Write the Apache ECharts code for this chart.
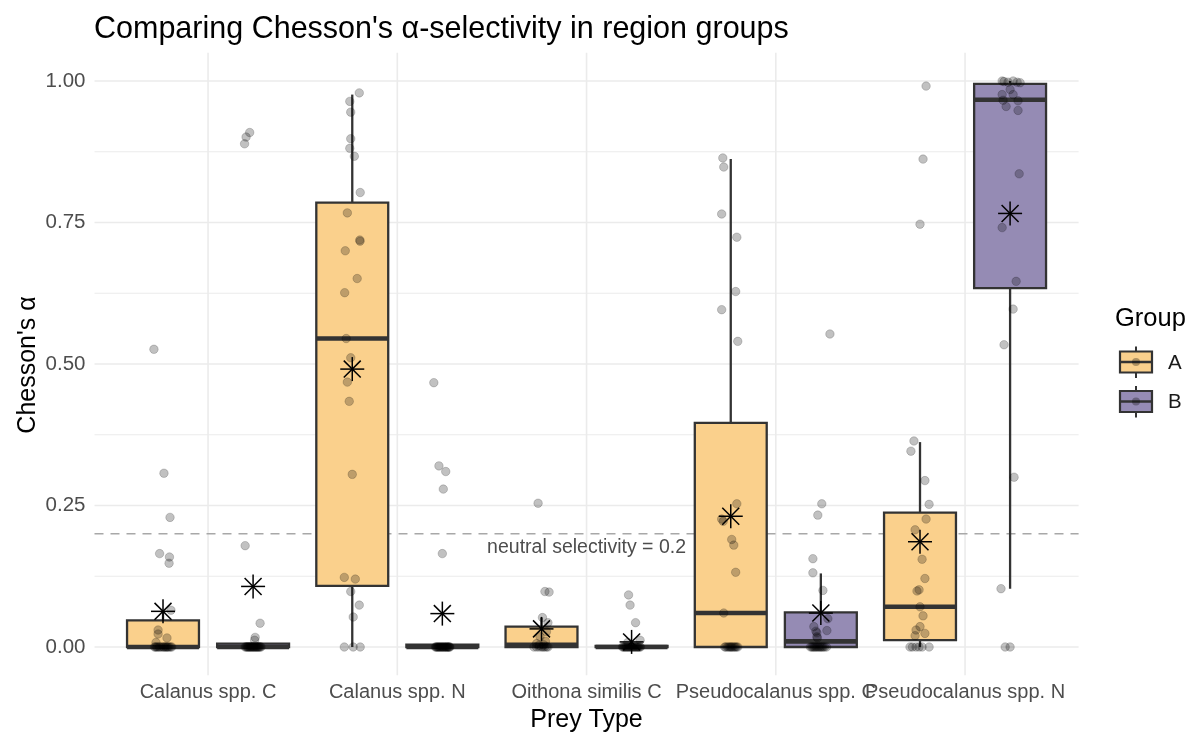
<!DOCTYPE html>
<html>
<head>
<meta charset="utf-8">
<script src="https://cdn.jsdelivr.net/npm/echarts@6/dist/echarts.min.js"></script>
<style>
  html, body { margin: 0; padding: 0; background: #ffffff; }
  #chart { width: 1192px; height: 736px; }
</style>
</head>
<body>
<div id="chart"></div>
<script>
// ---- data ----------------------------------------------------------------
const categories = ['Calanus spp. C', 'Calanus spp. N', 'Oithona similis C', 'Pseudocalanus spp. C', 'Pseudocalanus spp. N'];
const groups = ['A', 'B'];
const yTicks = [0, 0.25, 0.5, 0.75, 1];
const yMinorTicks = [0.125, 0.375, 0.625, 0.875];
const neutral = 0.2;

// box statistics per prey type: [lower whisker, Q1, median, Q3, upper whisker]
const boxA = [
  [0, 0, 0, 0.047, 0.065],
  [0, 0.108, 0.545, 0.785, 0.976],
  [0, 0, 0.004, 0.036, 0.052],
  [0, 0, 0.060, 0.396, 0.862],
  [0, 0.012, 0.071, 0.2375, 0.362]
];
const boxB = [
  [0, 0, 0, 0.006, 0.006],
  [0, 0, 0, 0.004, 0.004],
  [0, 0, 0, 0.002, 0.002],
  [0, 0, 0.010, 0.061, 0.130],
  [0.103, 0.634, 0.967, 0.995, 1.0]
];

// group means
const meanA = [0.063, 0.491, 0.032, 0.231, 0.186];
const meanB = [0.107, 0.059, 0.009, 0.060, 0.766];

// individual observations: [alpha, horizontal jitter (category units)]
const obsA = [
  [[0.526, -0.048], [0.307, 0.005], [0.229, 0.037], [0.165, -0.018], [0.159, 0.034], [0.148, 0.032],
   [0.065, 0.042], [0.030, -0.026], [0.023, -0.026], [0.016, 0.021], [0.008, -0.037],
   [0, -0.045], [0, -0.040], [0, -0.034], [0, -0.029], [0, -0.021], [0, -0.016], [0, -0.008], [0, 0],
   [0, 0.005], [0, 0.011], [0, 0.016], [0, 0.021], [0, 0.026], [0, 0.032], [0, 0.040], [0, 0.046]],
  [[0.979, 0.037], [0.964, -0.013], [0.945, -0.008], [0.898, -0.008], [0.881, -0.013], [0.867, 0.011],
   [0.803, 0.042], [0.767, -0.026], [0.719, 0.040], [0.717, 0.041], [0.700, -0.037], [0.651, 0.026],
   [0.626, -0.040], [0.545, -0.032], [0.511, -0.008], [0.468, -0.026], [0.434, -0.016], [0.305, 0],
   [0.123, -0.042], [0.120, 0.016], [0.098, -0.008], [0.074, 0.037], [0.053, 0.005],
   [0, -0.042], [0, 0.005], [0, 0.042]],
  [[0.254, -0.018], [0.098, 0.018], [0.097, 0.040], [0.052, 0.005], [0.043, 0.034], [0.027, 0.026],
   [0.018, -0.008], [0.010, 0.021], [0.006, -0.026], [0.004, 0.011], [0.003, -0.013],
   [0, -0.040], [0, -0.026], [0, -0.013], [0, 0], [0, 0.008], [0, 0.016], [0, 0.026], [0, 0.034]],
  [[0.864, -0.042], [0.848, -0.037], [0.765, -0.048], [0.724, 0.032], [0.628, 0.026], [0.596, -0.048],
   [0.540, 0.037], [0.253, 0.032], [0.226, -0.048], [0.222, -0.040], [0.190, 0.005], [0.180, 0.016],
   [0.132, 0.026], [0.060, -0.037],
   [0, -0.032], [0, -0.026], [0, -0.018], [0, -0.011], [0, -0.005], [0, 0], [0, 0.005], [0, 0.011],
   [0, 0.018], [0, 0.024], [0, 0.030], [0, 0.037]],
  [[0.991, 0.032], [0.862, 0.016], [0.747, 0], [0.364, -0.032], [0.346, -0.048], [0.294, 0.026],
   [0.252, 0.048], [0.226, 0.032], [0.207, -0.026], [0.155, 0.011], [0.121, 0.026], [0.101, -0.005],
   [0.099, -0.016], [0.071, 0], [0.055, 0.016], [0.036, 0], [0.030, -0.021], [0.024, 0.026], [0.020, -0.026],
   [0, -0.053], [0, -0.040], [0, -0.021], [0, -0.005], [0, 0.011], [0, 0.048]]
];
const obsB = [
  [[0.909, -0.018], [0.901, -0.037], [0.889, -0.045], [0.179, -0.042], [0.042, 0.037], [0.017, 0.011], [0.012, 0.008],
   [0, -0.042], [0, -0.037], [0, -0.032], [0, -0.028], [0, -0.024], [0, -0.020], [0, -0.016], [0, -0.012],
   [0, -0.008], [0, -0.004], [0, 0], [0, 0.004], [0, 0.008], [0, 0.012], [0, 0.016], [0, 0.020],
   [0, 0.024], [0, 0.028], [0, 0.032], [0, 0.037], [0, 0.042]],
  [[0.467, -0.045], [0.320, -0.018], [0.310, 0.018], [0.279, 0.005], [0.165, 0],
   [0, -0.037], [0, -0.033], [0, -0.029], [0, -0.025], [0, -0.021], [0, -0.017], [0, -0.013], [0, -0.009],
   [0, -0.005], [0, -0.001], [0, 0.003], [0, 0.007], [0, 0.011], [0, 0.015], [0, 0.019], [0, 0.023],
   [0, 0.026], [0, 0.030], [0, 0.034], [0, 0.037], [0, 0.040]],
  [[0.092, -0.016], [0.074, -0.008], [0.043, 0.021], [0.012, 0.045], [0.008, -0.020],
   [0, -0.048], [0, -0.043], [0, -0.038], [0, -0.033], [0, -0.028], [0, -0.023], [0, -0.018], [0, -0.013],
   [0, -0.008], [0, -0.003], [0, 0.002], [0, 0.007], [0, 0.012], [0, 0.017], [0, 0.022], [0, 0.027],
   [0, 0.032], [0, 0.037], [0, 0.042], [0, 0.047]],
  [[0.553, 0.048], [0.253, 0.005], [0.233, -0.016], [0.156, -0.042], [0.131, -0.042], [0.100, 0.011],
   [0.050, 0.037], [0.036, -0.037], [0.029, 0.032], [0.028, -0.026], [0.025, -0.021], [0.018, -0.021], [0.016, -0.018],
   [0, -0.055], [0, -0.048], [0, -0.042], [0, -0.036], [0, -0.030], [0, -0.024], [0, -0.018], [0, -0.012],
   [0, -0.006], [0, 0], [0, 0.006], [0, 0.012], [0, 0.020], [0, 0.030]],
  [[1.0, -0.042], [0.999, -0.032], [0.998, -0.011], [1.0, 0.016], [0.998, 0.037], [0.997, 0.053],
   [0.985, 0], [0.976, 0.016], [0.976, -0.042], [0.966, -0.037], [0.965, 0.042], [0.955, -0.021],
   [0.948, 0.042], [0.836, 0.048], [0.741, -0.042], [0.646, 0.032], [0.597, 0.016], [0.534, -0.032],
   [0.300, 0.021], [0.103, -0.048], [0, -0.026], [0, 0]]
];

// ---- look ----------------------------------------------------------------
const FONT = '"Liberation Sans", Arial, Helvetica, sans-serif';
const FILL = { A: '#FAD08C', B: '#958BB4' };
const INK = '#333333';
const DODGE = 0.238;      // offset of each group from the category centre
const BOX_W = 0.38;       // box width in category units

const groupBoxes = { A: boxA, B: boxB };
const groupMeans = { A: meanA, B: meanB };
const groupObs = { A: obsA, B: obsB };
const groupShift = { A: -DODGE, B: DODGE };

const boxData = [];
const meanData = [];
const pointData = [];
groups.forEach(function (g) {
  categories.forEach(function (c, i) {
    const xc = i + 1 + groupShift[g];
    const s = groupBoxes[g][i];
    boxData.push([xc, s[0], s[1], s[2], s[3], s[4], g]);
    meanData.push([xc, groupMeans[g][i]]);
    groupObs[g][i].forEach(function (o) { pointData.push([xc + o[1], o[0]]); });
  });
});

const hGridData = yTicks.map(function (v) { return [3, v, 1]; })
  .concat(yMinorTicks.map(function (v) { return [3, v, 0]; }));
const vGridData = categories.map(function (c, i) { return [i + 1, 0.5]; });
const xLabelData = categories.map(function (c, i) { return [i + 1, -0.05, c]; });

const chart = echarts.init(document.getElementById('chart'), null, { renderer: 'canvas' });

chart.setOption({
  backgroundColor: '#ffffff',
  animation: false,
  title: {
    text: "Comparing Chesson's \u03b1-selectivity in region groups",
    left: 89, top: 9,
    textStyle: { fontFamily: FONT, fontSize: 30.5, fontWeight: 'normal', color: '#000000' }
  },
  grid: { left: 94.5, right: 113.4, top: 52.7, bottom: 60.7, containLabel: false },
  xAxis: {
    type: 'value', min: 0.4, max: 5.6,
    axisLine: { show: false }, axisTick: { show: false }, splitLine: { show: false },
    axisLabel: { show: false }
  },
  yAxis: {
    type: 'value', min: -0.05, max: 1.05,
    axisLine: { show: false }, axisTick: { show: false }, splitLine: { show: false },
    axisLabel: {
      customValues: yTicks,
      formatter: function (v) { return v.toFixed(2); },
      color: '#4d4d4d', fontFamily: FONT, fontSize: 20.5, margin: 9
    }
  },
  graphic: [
    { type: 'text', x: 28, y: 365, rotation: Math.PI / 2,
      style: { text: "Chesson's \u03b1", fontFamily: FONT, fontSize: 25, fill: '#000', align: 'center', verticalAlign: 'middle' } },
    { type: 'text', x: 586.5, y: 720,
      style: { text: 'Prey Type', fontFamily: FONT, fontSize: 25, fill: '#000', align: 'center', verticalAlign: 'middle' } },
    { type: 'text', x: 1115, y: 319,
      style: { text: 'Group', fontFamily: FONT, fontSize: 25.5, fill: '#000', align: 'left', verticalAlign: 'middle' } }
  ].concat(groups.flatMap(function (g, k) {
    const cy = 362 + k * 39.5;
    return [
      { type: 'line', shape: { x1: 1136, y1: cy - 15.5, x2: 1136, y2: cy + 16 }, style: { stroke: INK, lineWidth: 2 } },
      { type: 'rect', shape: { x: 1120, y: cy - 10.5, width: 32, height: 21 }, style: { fill: FILL[g], stroke: INK, lineWidth: 2.2 } },
      { type: 'line', shape: { x1: 1120, y1: cy, x2: 1152, y2: cy }, style: { stroke: INK, lineWidth: 2.5 } },
      { type: 'circle', shape: { cx: 1136, cy: cy, r: 4 }, style: { fill: 'rgba(0,0,0,0.3)' } },
      { type: 'text', x: 1168, y: cy + 1,
        style: { text: g, fontFamily: FONT, fontSize: 20.5, fill: '#1a1a1a', align: 'left', verticalAlign: 'middle' } }
    ];
  })),
  series: [
    { // horizontal grid lines
      type: 'custom', z: 1, silent: true, data: hGridData, encode: { x: 0, y: 1 },
      renderItem: function (params, api) {
        const cs = params.coordSys;
        const p = api.coord([api.value(0), api.value(1)]);
        return { type: 'line', shape: { x1: cs.x, y1: p[1], x2: cs.x + cs.width, y2: p[1] },
          style: { stroke: '#ebebeb', lineWidth: api.value(2) ? 1.6 : 1.1 } };
      }
    },
    { // vertical grid lines
      type: 'custom', z: 1, silent: true, data: vGridData, encode: { x: 0, y: 1 },
      renderItem: function (params, api) {
        const cs = params.coordSys;
        const p = api.coord([api.value(0), api.value(1)]);
        return { type: 'line', shape: { x1: p[0], y1: cs.y, x2: p[0], y2: cs.y + cs.height },
          style: { stroke: '#ebebeb', lineWidth: 1.6 } };
      }
    },
    { // prey type labels under each category position
      type: 'custom', z: 2, silent: true, clip: false, data: xLabelData, encode: { x: 0, y: 1 },
      renderItem: function (params, api) {
        const p = api.coord([api.value(0), api.value(1)]);
        return { type: 'text', x: p[0], y: p[1] + 7,
          style: { text: xLabelData[params.dataIndex][2], fontFamily: FONT, fontSize: 20,
            fill: '#4d4d4d', align: 'center', verticalAlign: 'top' } };
      }
    },
    { // neutral selectivity reference line and its note
      type: 'custom', z: 2, silent: true, data: [[3, neutral]], encode: { x: 0, y: 1 },
      renderItem: function (params, api) {
        const cs = params.coordSys;
        const p = api.coord([api.value(0), api.value(1)]);
        return { type: 'group', children: [
          { type: 'line', shape: { x1: cs.x, y1: p[1], x2: cs.x + cs.width, y2: p[1] },
            style: { stroke: '#a8a8a8', lineWidth: 1.6, lineDash: [9, 7] } },
          { type: 'text', x: p[0], y: p[1] + 14,
            style: { text: 'neutral selectivity = ' + api.value(1), fontFamily: FONT, fontSize: 19.5,
              fill: '#4d4d4d', align: 'center', verticalAlign: 'middle' } }
        ] };
      }
    },
    { // boxes and whiskers
      type: 'custom', z: 3, silent: true, data: boxData, encode: { x: 0, y: [1, 2, 3, 4, 5] },
      renderItem: function (params, api) {
        const x = api.value(0);
        const w = api.size([BOX_W, 0])[0];
        const lo = api.coord([x, api.value(1)]);
        const q1 = api.coord([x, api.value(2)]);
        const md = api.coord([x, api.value(3)]);
        const q3 = api.coord([x, api.value(4)]);
        const hi = api.coord([x, api.value(5)]);
        const g = boxData[params.dataIndex][6];
        return { type: 'group', children: [
          { type: 'line', shape: { x1: q3[0], y1: hi[1], x2: q3[0], y2: q3[1] }, style: { stroke: INK, lineWidth: 2.3 } },
          { type: 'line', shape: { x1: q1[0], y1: q1[1], x2: q1[0], y2: lo[1] }, style: { stroke: INK, lineWidth: 2.3 } },
          { type: 'rect', shape: { x: q1[0] - w / 2, y: q3[1], width: w, height: q1[1] - q3[1] },
            style: { fill: FILL[g], stroke: INK, lineWidth: 2.3 } },
          { type: 'line', shape: { x1: md[0] - w / 2, y1: md[1], x2: md[0] + w / 2, y2: md[1] },
            style: { stroke: INK, lineWidth: 4.6 } }
        ] };
      }
    },
    { // jittered observations
      type: 'scatter', z: 4, silent: true, data: pointData, symbol: 'circle', symbolSize: 8.5,
      itemStyle: { color: 'rgba(0,0,0,0.3)', borderColor: 'rgba(0,0,0,0.22)', borderWidth: 1 }
    },
    { // group means as asterisks
      type: 'custom', z: 5, silent: true, data: meanData, encode: { x: 0, y: 1 },
      renderItem: function (params, api) {
        const p = api.coord([api.value(0), api.value(1)]);
        const r = 12, d = r / Math.SQRT2;
        const st = { stroke: '#000000', lineWidth: 1.5 };
        return { type: 'group', children: [
          { type: 'line', shape: { x1: p[0] - r, y1: p[1], x2: p[0] + r, y2: p[1] }, style: st },
          { type: 'line', shape: { x1: p[0], y1: p[1] - r, x2: p[0], y2: p[1] + r }, style: st },
          { type: 'line', shape: { x1: p[0] - d, y1: p[1] - d, x2: p[0] + d, y2: p[1] + d }, style: st },
          { type: 'line', shape: { x1: p[0] - d, y1: p[1] + d, x2: p[0] + d, y2: p[1] - d }, style: st }
        ] };
      }
    }
  ]
});
</script>
</body>
</html>
